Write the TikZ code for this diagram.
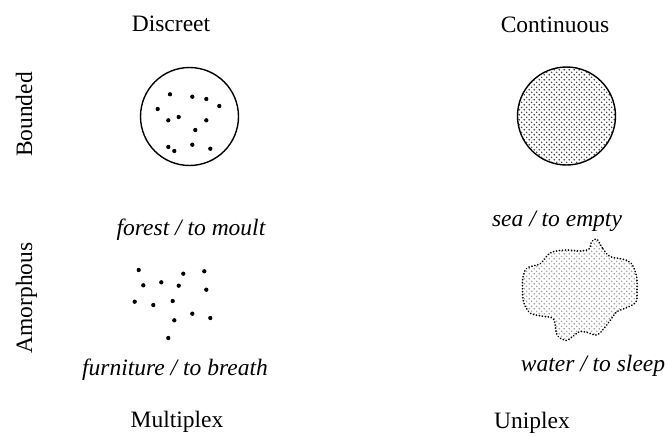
\documentclass[tikz,border=0pt]{standalone}
\usepackage{fontspec}
\setmainfont{Liberation Serif}
\usetikzlibrary{patterns}

% staggered fine dots used as a texture
\pgfdeclarepatternformonly{finedots}{\pgfpointorigin}{\pgfpoint{5.4pt}{5.4pt}}{\pgfpoint{5.4pt}{5.4pt}}{%
  \pgfpathcircle{\pgfpoint{1.35pt}{1.35pt}}{0.9pt}%
  \pgfpathcircle{\pgfpoint{4.05pt}{4.05pt}}{0.9pt}%
  \pgfusepathqfill}

\tikzset{
  lbl/.style={inner sep=0pt, anchor=base, font=\fontsize{23.5}{28}\selectfont},
  ilbl/.style={lbl, font=\fontsize{23.5}{28}\selectfont\itshape},
  side/.style={lbl, rotate=90},
  grain/.style={circle, fill=black, inner sep=0pt, minimum size=4.3pt},
  rim/.style={draw=black, line width=1.4pt},
}

\begin{document}
\begin{tikzpicture}[x=1pt, y=-1pt]
\useasboundingbox (0,0) rectangle (669,436);

% column and row headings
\node[lbl] (discreet) at (171,32) {Discreet};
\node[lbl] (continuous) at (555,33) {Continuous};
\node[lbl] (multiplex) at (177,427) {Multiplex};
\node[lbl] (uniplex) at (532,428) {Uniplex};
\node[side] (bounded) at (32,114.5) {Bounded};
\node[side] (amorphous) at (32,298) {Amorphous};

% examples
\node[ilbl] (forest) at (191,235) {forest / to moult};
\node[ilbl] (sea) at (557,226) {sea / to empty};
\node[ilbl] (furniture) at (175,375) {furniture / to breath};
\node[ilbl] (water) at (593,371) {water / to sleep};

% bounded, discrete: a circle with separate grains
\draw[rim] (189.5,116.5) circle[radius=49];
\foreach \p [count=\i] in {(170,94.3),(192.3,96.7),(206.3,99),(219.3,106),(157.7,109),
  (168.3,120.3),(178.7,117),(206.3,120.3),(195.3,130),(168.3,147),(174.3,151),
  (192.3,144.7),(210.3,148.7)}
  \node[grain] (bd\i) at \p {};

% bounded, continuous: a filled circle
\path[pattern=finedots, pattern color=black!80] (566.5,116) circle[radius=49];
\draw[rim] (566.5,116) circle[radius=49];

% amorphous, discrete: loose grains
\foreach \p [count=\i] in {(138.7,270),(183.3,273.7),(204.3,271.3),(143.3,285.3),
  (161.3,282.3),(178.7,285.7),(206.3,289.7),(134.7,301.7),(153.3,305),(172.7,301),
  (192.3,313.7),(210.3,318),(174.3,320.3),(168.3,338)}
  \node[grain] (ad\i) at \p {};

% amorphous, continuous: a shapeless mass
\path[pattern=finedots, pattern color=black!40, draw=black, line width=1.9pt,
      line cap=round, dash pattern=on 0.01pt off 3pt]
  plot[smooth cycle, tension=0.55] coordinates {
    (596.7,239) (603,249) (610,256.5) (622,259) (631,263) (636.5,276)
    (637,290) (636,302) (626,308) (616.5,312) (609,322) (598,334.5)
    (589,333) (580,331.5) (572,337) (566,340.5) (557,335) (553.5,319)
    (541,316) (530,313) (523.5,302) (522.5,288) (523,277) (527,268)
    (540,264) (546,257) (552,252) (566.5,250) (580,251) (589,249) (591.5,242)
  };
\end{tikzpicture}
\end{document}
